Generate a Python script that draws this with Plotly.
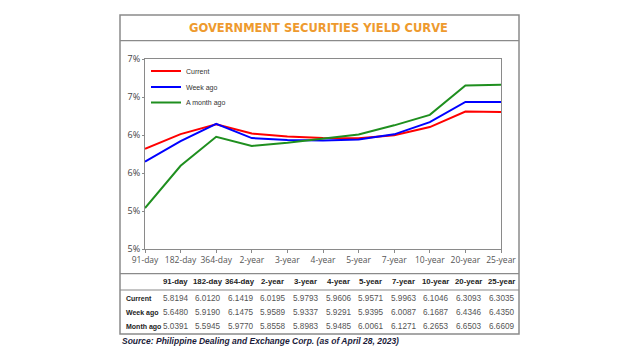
import plotly.graph_objects as go

# ---- data ----
tenors = ["91-day", "182-day", "364-day", "2-year", "3-year", "4-year",
          "5-year", "7-year", "10-year", "20-year", "25-year"]
current = [5.8194, 6.0120, 6.1419, 6.0195, 5.9793, 5.9606, 5.9571, 5.9963, 6.1046, 6.3093, 6.3035]
week_ago = [5.6480, 5.9190, 6.1475, 5.9589, 5.9337, 5.9291, 5.9395, 6.0087, 6.1687, 6.4346, 6.4350]
month_ago = [5.0391, 5.5945, 5.9770, 5.8558, 5.8983, 5.9485, 6.0061, 6.1271, 6.2653, 6.6503, 6.6609]
series_names = ["Current", "Week ago", "A month ago"]
row_labels = ["Current", "Week ago", "Month ago"]
y_tickvals = [4.5, 5.0, 5.5, 6.0, 6.5, 7.0]
y_ticktext = ["5%", "5%", "6%", "6%", "7%", "7%"]
title_text = "GOVERNMENT SECURITIES YIELD CURVE"
source_text = "Source: Philippine Dealing and Exchange Corp. (as of April 28, 2023)"

# ---- layout geometry (pixels) ----
W, H = 640, 360
L, R, T, B = 145, 139, 59, 111
PW, PH = W - L - R, H - T - B


def px(xp):
    return (xp - L) / PW


def py(yp):
    return (H - B - yp) / PH


colors = ["#ff0000", "#0000ff", "#1f8f1f"]
gray = "#8a8a8a"
sans = "Liberation Sans, Arial, sans-serif"

fig = go.Figure()
legend_ids = ["legend", "legend2", "legend3"]
for name, vals, c, lg in zip(series_names, [current, week_ago, month_ago], colors, legend_ids):
    fig.add_trace(go.Scatter(x=tenors, y=vals, mode="lines", name=name, legend=lg,
                             line=dict(color=c, width=2)))

shapes = [
    dict(type="rect", xref="paper", yref="paper", x0=px(120), x1=px(519),
         y0=py(15), y1=py(334), line=dict(color=gray, width=1.5)),
    dict(type="line", xref="paper", yref="paper", x0=px(120), x1=px(519),
         y0=py(40.7), y1=py(40.7), line=dict(color=gray, width=1.2)),
    dict(type="line", xref="paper", yref="paper", x0=px(120), x1=px(519),
         y0=py(273.7), y1=py(273.7), line=dict(color=gray, width=1.2)),
    dict(type="line", xref="paper", yref="paper", x0=px(120), x1=px(519),
         y0=py(290), y1=py(290), line=dict(color=gray, width=1.2)),
]

ann = []
ann.append(dict(text="<b>" + title_text + "</b>", xref="paper", yref="paper",
                x=px(318.5), y=py(27.5), showarrow=False, xanchor="center", yanchor="middle",
                font=dict(family="DejaVu Sans", size=11.5, color="#ee9a2e")))

col_x = [175 + 32.6 * i for i in range(len(tenors))]
for cx, t in zip(col_x, tenors):
    ann.append(dict(text="<b>" + t + "</b>", xref="paper", yref="paper",
                    x=px(cx), y=py(281.8), showarrow=False, xanchor="center", yanchor="middle",
                    font=dict(family=sans, size=7.8, color="#222222")))

row_y = [298, 312.6, 326.8]
for ry, lab, vals in zip(row_y, row_labels, [current, week_ago, month_ago]):
    ann.append(dict(text="<b>" + lab + "</b>", xref="paper", yref="paper",
                    x=px(124), y=py(ry), showarrow=False, xanchor="left", yanchor="middle",
                    font=dict(family=sans, size=7, color="#222222")))
    for cx, v in zip(col_x, vals):
        ann.append(dict(text=f"{v:.4f}", xref="paper", yref="paper",
                        x=px(cx), y=py(ry), showarrow=False, xanchor="center", yanchor="middle",
                        font=dict(family=sans, size=8.2, color="#555555")))

ann.append(dict(text="<b><i>" + source_text + "</i></b>", xref="paper", yref="paper",
                x=px(120), y=py(341), showarrow=False, xanchor="left", yanchor="middle",
                font=dict(family=sans, size=8.5, color="#1b1b3a")))

leg_style = dict(xanchor="left", yanchor="middle", bgcolor="rgba(0,0,0,0)", itemwidth=30,
                 font=dict(family=sans, size=7, color="#333333"))
fig.update_layout(
    width=W, height=H, autosize=False,
    margin=dict(l=L, r=R, t=T, b=B, pad=0),
    paper_bgcolor="white", plot_bgcolor="white",
    showlegend=True,
    legend=dict(x=px(146), y=py(71), **leg_style),
    legend2=dict(x=px(146), y=py(87), **leg_style),
    legend3=dict(x=px(146), y=py(102.5), **leg_style),
    xaxis=dict(range=[0, len(tenors) - 1], showgrid=False, zeroline=False,
               showline=True, linecolor=gray, linewidth=1, mirror=True,
               ticks="outside", ticklen=3, tickcolor=gray,
               tickfont=dict(family="Open Sans, Liberation Sans, sans-serif", size=8.5, color="#555555")),
    yaxis=dict(range=[4.5, 7.0], tickvals=y_tickvals, ticktext=y_ticktext,
               showgrid=False, zeroline=False,
               showline=True, linecolor=gray, linewidth=1, mirror=True,
               ticks="outside", ticklen=2, tickcolor=gray,
               tickfont=dict(family="Open Sans, Liberation Sans, sans-serif", size=9, color="#444444")),
    shapes=shapes, annotations=ann,
)

fig.write_html("out.html", config={"displayModeBar": False},
               post_script="document.body.style.margin='0';")
